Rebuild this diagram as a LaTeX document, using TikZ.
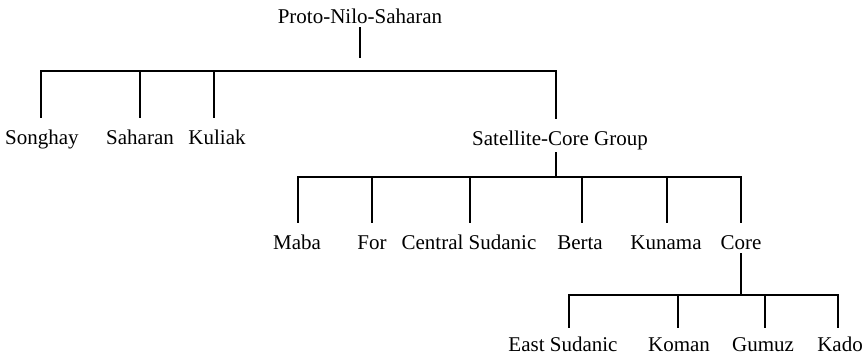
\documentclass[tikz,border=0pt]{standalone}
\usepackage{fontspec}
\setmainfont{Liberation Serif}
\begin{document}
\begin{tikzpicture}[x=1pt,y=-1pt,
  lbl/.style={font=\fontsize{21}{25}\selectfont, inner sep=0pt,
              text height=14pt, text depth=4.5pt, anchor=base},
  tree/.style={line width=1.8pt, line cap=rect}]
\useasboundingbox (0,0) rectangle (867,362);

% language labels
\node[lbl] (root)   at (360,23)  {Proto-Nilo-Saharan};
\node[lbl] (songhay) at (42,144) {Songhay};
\node[lbl] (saharan) at (140,144) {Saharan};
\node[lbl] (kuliak)  at (217,144) {Kuliak};
\node[lbl] (sat)     at (560,145) {Satellite-Core Group};
\node[lbl] (maba)    at (297,249) {Maba};
\node[lbl] (for)     at (372,249) {For};
\node[lbl] (csud)    at (469,249) {Central Sudanic};
\node[lbl] (berta)   at (580,249) {Berta};
\node[lbl] (kunama)  at (666,249) {Kunama};
\node[lbl] (core)    at (741,249) {Core};
\node[lbl] (esud)    at (563,351) {East Sudanic};
\node[lbl] (koman)   at (679,351) {Koman};
\node[lbl] (gumuz)   at (763,351) {Gumuz};
\node[lbl] (kado)    at (840,351) {Kado};

% branching points
\coordinate (a0) at (360,71);
\coordinate (a1) at (41,71);
\coordinate (a2) at (140,71);
\coordinate (a3) at (214,71);
\coordinate (a4) at (556,71);

\coordinate (b0) at (556,177);
\coordinate (b1) at (298,177);
\coordinate (b2) at (372,177);
\coordinate (b3) at (470,177);
\coordinate (b4) at (582,177);
\coordinate (b5) at (667,177);
\coordinate (b6) at (741,177);

\coordinate (c0) at (741,295);
\coordinate (c1) at (569,295);
\coordinate (c2) at (678,295);
\coordinate (c3) at (765,295);
\coordinate (c4) at (838,295);

% first level
\draw[tree, shorten >=14pt] (root.south -| a0) -- (a0);
\draw[tree] (a1) -- (a4);
\draw[tree, shorten >=13pt] (a1) -- (a1 |- songhay.north);
\draw[tree, shorten >=13pt] (a2) -- (a2 |- saharan.north);
\draw[tree, shorten >=13pt] (a3) -- (a3 |- kuliak.north);
\draw[tree, shorten >=13pt] (a4) -- (a4 |- sat.north);

% second level
\draw[tree, shorten <=3.5pt] (sat.south -| b0) -- (b0);
\draw[tree] (b1) -- (b6);
\draw[tree, shorten >=13pt] (b1) -- (b1 |- maba.north);
\draw[tree, shorten >=13pt] (b2) -- (b2 |- for.north);
\draw[tree, shorten >=13pt] (b3) -- (b3 |- csud.north);
\draw[tree, shorten >=13pt] (b4) -- (b4 |- berta.north);
\draw[tree, shorten >=13pt] (b5) -- (b5 |- kunama.north);
\draw[tree, shorten >=13pt] (b6) -- (b6 |- core.north);

% third level
\draw[tree] (core.south -| c0) -- (c0);
\draw[tree] (c1) -- (c4);
\draw[tree, shorten >=10pt] (c1) -- (c1 |- esud.north);
\draw[tree, shorten >=10pt] (c2) -- (c2 |- koman.north);
\draw[tree, shorten >=10pt] (c3) -- (c3 |- gumuz.north);
\draw[tree, shorten >=10pt] (c4) -- (c4 |- kado.north);
\end{tikzpicture}
\end{document}
